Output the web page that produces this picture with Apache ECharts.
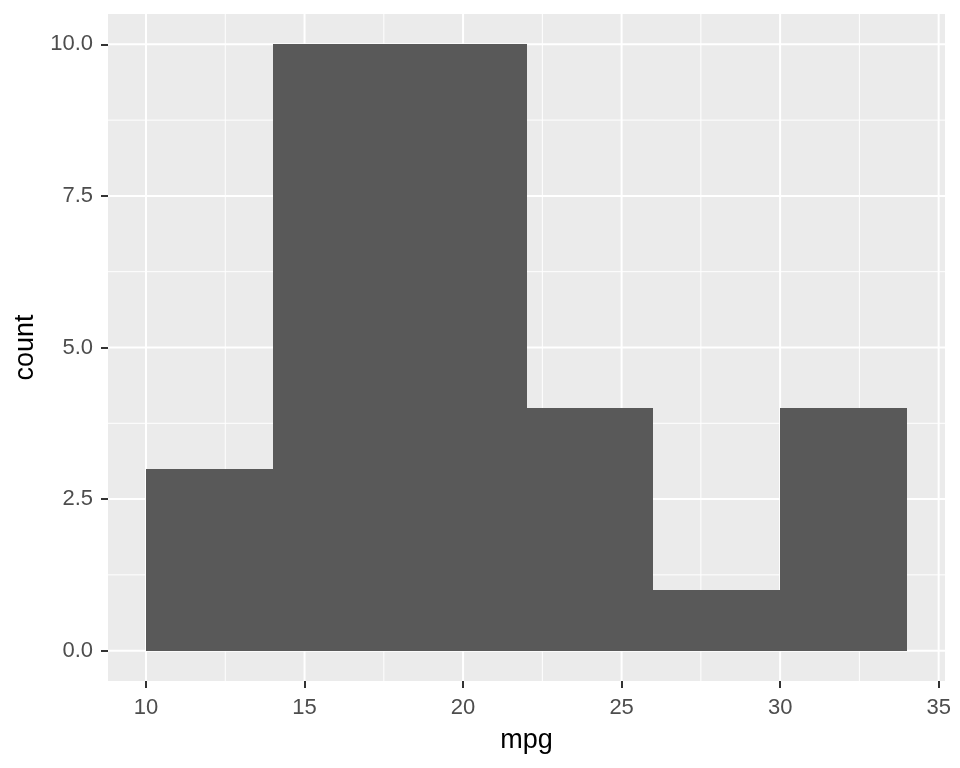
<!DOCTYPE html>
<html>
<head>
<meta charset="utf-8">
<script src="https://cdn.jsdelivr.net/npm/echarts@6/dist/echarts.min.js"></script>
<style>
html,body{margin:0;padding:0;background:#fff;}
#main{width:960px;height:768px;}
</style>
</head>
<body>
<div id="main"></div>
<script>
// Histogram data (mtcars mpg, binwidth 4)
var binStarts = [10, 14, 18, 22, 26, 30];
var binEnds   = [14, 18, 22, 26, 30, 34];
var counts    = [3, 10, 10, 4, 1, 4];

// Axis ticks / grid breaks
var xMajor = [10, 15, 20, 25, 30, 35];
var xMinor = [12.5, 17.5, 22.5, 27.5, 32.5];
var yMajor = [0, 2.5, 5, 7.5, 10];
var yMinor = [1.25, 3.75, 6.25, 8.75];

var xMin = 8.8, xMax = 35.2, yMin = -0.5, yMax = 10.5;

var chart = echarts.init(document.getElementById('main'), null, {renderer: 'canvas'});

var gridData = [];
xMinor.forEach(function (v) { gridData.push(['x', v, 1]); });
yMinor.forEach(function (v) { gridData.push(['y', v, 1]); });
xMajor.forEach(function (v) { gridData.push(['x', v, 2]); });
yMajor.forEach(function (v) { gridData.push(['y', v, 2]); });

var barData = binStarts.map(function (s, i) { return [s, binEnds[i], counts[i]]; });

var FONT = '"Liberation Sans", Arial, sans-serif';

chart.setOption({
  animation: false,
  backgroundColor: '#ffffff',
  grid: {
    left: 108, right: 15, top: 14, bottom: 87,
    show: true, backgroundColor: '#EBEBEB', borderWidth: 0
  },
  xAxis: {
    type: 'value', min: xMin, max: xMax,
    name: 'mpg', nameLocation: 'middle', nameGap: 46,
    nameTextStyle: {fontSize: 27, color: '#000', fontFamily: FONT},
    axisLine: {show: false, onZero: false},
    splitLine: {show: false},
    axisTick: {show: true, customValues: xMajor, length: 7, lineStyle: {color: '#333333', width: 2}},
    axisLabel: {customValues: xMajor, fontSize: 22, color: '#4D4D4D', fontFamily: FONT, margin: 16}
  },
  yAxis: {
    type: 'value', min: yMin, max: yMax,
    name: 'count', nameLocation: 'middle', nameGap: 66, nameRotate: 90,
    nameTextStyle: {fontSize: 27, color: '#000', fontFamily: FONT},
    axisLine: {show: false, onZero: false},
    splitLine: {show: false},
    axisTick: {show: true, customValues: yMajor, length: 7, lineStyle: {color: '#333333', width: 2}},
    axisLabel: {customValues: yMajor, fontSize: 22, color: '#4D4D4D', fontFamily: FONT, margin: 15,
      formatter: function (v) { return v.toFixed(1); }}
  },
  series: [
    {
      type: 'custom', z: 1, silent: true,
      data: gridData,
      renderItem: function (params, api) {
        var d = gridData[params.dataIndex];
        var w = d[2];
        var p1, p2;
        if (d[0] === 'x') {
          p1 = api.coord([d[1], yMin]);
          p2 = api.coord([d[1], yMax]);
        } else {
          p1 = api.coord([xMin, d[1]]);
          p2 = api.coord([xMax, d[1]]);
        }
        return {
          type: 'line',
          shape: {x1: p1[0], y1: p1[1], x2: p2[0], y2: p2[1]},
          style: {stroke: '#FFFFFF', lineWidth: w}
        };
      }
    },
    {
      type: 'custom', z: 2,
      data: barData,
      encode: {x: [0, 1], y: 2},
      renderItem: function (params, api) {
        var a = api.coord([api.value(0), api.value(2)]);
        var b = api.coord([api.value(1), 0]);
        var x0 = Math.round(a[0]), x1 = Math.round(b[0]);
        var y0 = Math.round(a[1]), y1 = Math.round(b[1]);
        return {
          type: 'rect',
          shape: {x: x0, y: y0, width: x1 - x0, height: y1 - y0},
          style: {fill: '#595959'}
        };
      }
    }
  ]
});
</script>
</body>
</html>
